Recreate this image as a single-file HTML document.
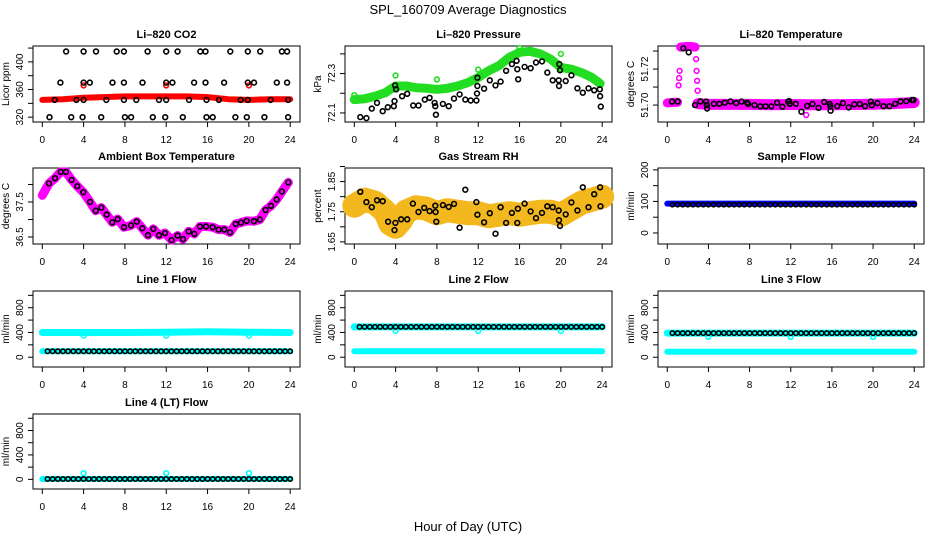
<!DOCTYPE html>
<html><head><meta charset="utf-8"><title>SPL_160709 Average Diagnostics</title>
<style>
html,body{margin:0;padding:0;background:#fff;}
svg{display:block;font-family:"Liberation Sans","DejaVu Sans",sans-serif;}
</style></head>
<body>
<svg id="chart" width="936" height="540" viewBox="0 0 936 540" xmlns="http://www.w3.org/2000/svg">
<rect x="0" y="0" width="936" height="540" fill="#fff"/>
<text x="468" y="14" text-anchor="middle" font-size="13">SPL_160709  Average Diagnostics</text>
<text x="468" y="531" text-anchor="middle" font-size="13">Hour of Day (UTC)</text>
</svg>
<script>
// ---------- data ----------
const xTicks = [0,4,8,12,16,20,24];
const halfHours = [0.5,1,1.5,2,2.5,3,3.5,4,4.5,5,5.5,6,6.5,7,7.5,8,8.5,9,9.5,10,10.5,11,11.5,12,12.5,13,13.5,14,14.5,15,15.5,16,16.5,17,17.5,18,18.5,19,19.5,20,20.5,21,21.5,22,22.5,23,23.5,24];
const bandHours = [0,4,8,12,16,20,24];

// CO2
const co2Hours = [2.3,4.0,5.2,7.2,7.9,10.2,12.0,13.1,15.3,15.8,18.2,19.9,21.1,23.2,23.7,
  1.75,4.0,4.6,6.8,7.9,9.7,12.0,12.6,14.7,15.8,17.6,19.9,20.5,22.7,23.7,
  1.2,3.3,4.0,6.2,7.9,9.1,11.3,12.0,14.2,15.9,17.1,19.2,19.9,22.1,23.8,
  0.7,2.8,3.9,5.7,8.0,8.6,10.7,11.9,13.6,15.9,16.5,18.7,19.8,21.5,23.8];
const co2Vals = [415,415,415,415,415,415,415,415,415,415,415,415,415,415,415,
  370,370,370,370,370,370,370,370,370,370,370,370,370,370,370,
  345,345,345,345,345,345,345,345,345,345,345,345,345,345,345,
  320,320,320,320,320,320,320,320,320,320,320,320,320,320,320];
const co2BandHours = [0,2,4,6,8,10,12,14,16,18,20,22,24];
const co2BandVals = [345,346,348,349,350,350,350,350,349,346,345,346,346];
const co2OutHours = [4,12,20];
const co2OutVals = [366,366,366];

// Pressure
const presHours = [0.58,1.17,1.69,2.2,2.75,3.24,3.82,3.89,3.95,4.05,4.63,5.12,5.7,6.22,6.83,7.29,7.77,7.84,7.9,8.58,9.14,9.65,10.2,10.75,11.27,11.82,11.88,11.92,11.92,12.57,13.12,13.67,14.16,14.7,15.26,15.71,15.78,15.87,16.49,17.07,17.59,18.17,18.69,19.21,19.79,19.82,19.85,19.92,20.47,21.02,21.6,22.12,22.67,23.23,23.77,23.8,23.87];
const presVals = [72.079,72.074,72.122,72.151,72.109,72.129,72.134,72.16,72.24,72.22,72.185,72.197,72.138,72.138,72.168,72.177,72.151,72.134,72.091,72.146,72.134,72.173,72.194,72.168,72.163,72.163,72.199,72.237,72.279,72.223,72.266,72.24,72.259,72.314,72.348,72.365,72.322,72.271,72.334,72.327,72.356,72.362,72.305,72.266,72.266,72.237,72.348,72.317,72.262,72.291,72.225,72.203,72.225,72.215,72.22,72.185,72.132];
const presBandHours = [0,1,2,3,4,5,6,7,7.9,8.1,9,10,11,12,13,14,15,16,17,18,19,20,21,22,23,23.8];
const presBandVals = [72.168,72.172,72.185,72.203,72.237,72.237,72.228,72.225,72.22,72.22,72.225,72.237,72.254,72.28,72.314,72.34,72.382,72.408,72.413,72.4,72.374,72.331,72.322,72.305,72.28,72.249];
const presOutHours = [0,4,8,12,16,20];
const presOutVals = [72.19,72.29,72.27,72.32,72.43,72.40];

// Li-820 temperature
const ltHours = [0.46,1.01,1.56,2.08,2.7,3.22,3.77,3.84,3.87,4.52,5.07,5.59,6.15,6.7,7.22,7.77,7.87,8.49,9.04,9.56,10.11,10.67,11.19,11.74,11.84,11.9,12.49,13.04,13.59,14.11,14.7,15.25,15.8,15.84,15.87,16.52,17.07,17.63,18.18,18.7,19.22,19.77,19.87,20.42,21.01,21.59,22.15,22.67,23.22,23.77,23.93];
const ltVals = [51.7019,51.702,51.7315,51.7293,51.700,51.702,51.7019,51.700,51.6981,51.7007,51.7007,51.7013,51.702,51.7011,51.7019,51.7013,51.7006,51.700,51.6993,51.6993,51.6993,51.7013,51.6991,51.7019,51.7022,51.7007,51.7007,51.6963,51.6996,51.7006,51.6985,51.7017,51.7006,51.6993,51.6969,51.6994,51.7011,51.6987,51.7004,51.7006,51.6994,51.7019,51.700,51.7011,51.6994,51.6994,51.7007,51.702,51.7022,51.7028,51.7028];
const ltMagAHours = [0,0.5,1.0];
const ltMagAVals = [51.7012,51.7014,51.7016];
const ltMagPeakHours = [1.3,1.8,2.3,2.7];
const ltMagPeakVals = [51.7322,51.7325,51.7325,51.7322];
const ltMagBHours = [3,4,6,8,10,12,14,16,18,20,22,24];
const ltMagBVals = [51.7008,51.7004,51.7004,51.7004,51.7002,51.7003,51.7002,51.7002,51.7003,51.7005,51.7008,51.7014];
const ltMagPtsHours = [1.1,1.15,1.2,2.8,2.85,2.9,2.95,13.5];
const ltMagPtsVals = [51.711,51.715,51.719,51.7255,51.719,51.7135,51.708,51.6945];

// Ambient box temperature
const ambHours = [0.65,1.23,1.78,2.29,2.84,3.39,3.97,4.62,5.17,5.71,6.23,6.78,7.3,7.91,8.59,9.14,9.68,10.23,10.75,11.3,11.88,12.52,13.1,13.62,14.17,14.72,15.27,15.85,16.49,17.07,17.62,18.17,18.72,19.24,19.78,20.49,21.07,21.62,22.14,22.69,23.2,23.82];
const ambVals = [38.03,38.18,38.36,38.36,38.13,37.95,37.78,37.5,37.25,37.34,37.14,36.92,37.01,36.78,36.83,36.94,36.75,36.55,36.73,36.55,36.61,36.41,36.54,36.44,36.66,36.59,36.8,36.8,36.78,36.71,36.71,36.63,36.87,36.91,36.96,36.95,37.0,37.27,37.39,37.57,37.8,38.06];
const ambBandHours = [0,0.65,1.23,1.78,2.29,2.84,3.39,3.97,4.62,5.17,5.71,6.23,6.78,7.3,7.91,8.59,9.14,9.68,10.23,10.75,11.3,11.88,12.52,13.1,13.62,14.17,14.72,15.27,15.85,16.49,17.07,17.62,18.17,18.72,19.24,19.78,20.49,21.07,21.62,22.14,22.69,23.2,23.82];
const ambBandVals = [37.69,38.03,38.18,38.36,38.36,38.13,37.95,37.78,37.5,37.25,37.34,37.14,36.92,37.01,36.78,36.83,36.94,36.75,36.55,36.73,36.55,36.61,36.41,36.54,36.44,36.66,36.59,36.8,36.8,36.78,36.71,36.71,36.63,36.87,36.91,36.96,36.95,37.0,37.27,37.39,37.57,37.8,38.06];

// Gas stream RH
const rhHours = [0.58,1.17,1.69,2.2,2.75,3.27,3.89,3.98,4.53,5.12,5.67,6.22,6.77,7.29,7.84,7.94,7.87,8.58,9.14,9.65,10.2,10.75,11.82,11.92,12.57,13.12,13.67,14.16,14.7,15.26,15.78,15.84,16.49,17.07,17.59,18.17,18.69,19.21,19.79,19.82,19.92,20.47,21.02,21.6,22.12,22.67,23.23,23.8,23.84];
const rhVals = [1.816,1.782,1.765,1.788,1.785,1.717,1.689,1.713,1.725,1.725,1.777,1.749,1.763,1.752,1.77,1.717,1.749,1.772,1.766,1.776,1.697,1.823,1.782,1.74,1.715,1.745,1.677,1.765,1.713,1.746,1.713,1.76,1.777,1.751,1.729,1.746,1.768,1.765,1.754,1.722,1.703,1.741,1.781,1.754,1.831,1.765,1.808,1.831,1.768];
const rhBandHours = [0,1,2,3,3.5,4,4.5,5,6,7,8,9,10,11,12,13,14,15,16,17,18,19,20,21,22,23,24];
const rhBandVals = [1.77,1.79,1.78,1.75,1.71,1.70,1.72,1.75,1.765,1.76,1.745,1.755,1.75,1.745,1.745,1.735,1.74,1.745,1.74,1.745,1.75,1.75,1.74,1.76,1.78,1.79,1.80];

// Sample flow
const sampleBlack = [90,90,90,90,90,90,90,90,90,90,90,90,90,90,90,90,90,90,90,90,90,90,90,90,90,90,90,90,90,90,90,90,90,90,90,90,90,90,90,90,90,90,90,90,90,90,90,90];
const sampleBlueVals = [93,93,93,93,93,93,93];

// Line flows
const l1Black = [95,95,95,95,95,95,95,95,95,95,95,95,95,95,95,95,95,95,95,95,95,95,95,95,95,95,95,95,95,95,95,95,95,95,95,95,95,95,95,95,95,95,95,95,95,95,95,95];
const l1CyanHigh = [400,400,400,405,410,405,400];
const l1CyanLow = [95,95,95,95,95,95,95];
const l2Black = [490,490,490,490,490,490,490,490,490,490,490,490,490,490,490,490,490,490,490,490,490,490,490,490,490,490,490,490,490,490,490,490,490,490,490,490,490,490,490,490,490,490,490,490,490,490,490,490];
const l2CyanHigh = [490,490,490,490,490,490,490];
const l2CyanLow = [95,95,95,95,95,95,95];
const l3Black = [390,390,390,390,390,390,390,390,390,390,390,390,390,390,390,390,390,390,390,390,390,390,390,390,390,390,390,390,390,390,390,390,390,390,390,390,390,390,390,390,390,390,390,390,390,390,390,390];
const l3CyanHigh = [390,390,390,390,390,390,390];
const l3CyanLow = [90,90,90,90,90,90,90];
const l4Black = [5,5,5,5,5,5,5,5,5,5,5,5,5,5,5,5,5,5,5,5,5,5,5,5,5,5,5,5,5,5,5,5,5,5,5,5,5,5,5,5,5,5,5,5,5,5,5,5];
const l4Cyan = [5,5,5,5,5,5,5];
const dipHours = [4,12,20];
const l1Dips = [350,350,350];
const l2Dips = [425,425,425];
const l3Dips = [330,330,330];
const l4Dips = [100,100,100];

// ---------- drawing ----------
const NS = 'http://www.w3.org/2000/svg';
const svg = document.getElementById('chart');
function mk(tag, attrs, parent) {
  const el = document.createElementNS(NS, tag);
  for (const k in attrs) el.setAttribute(k, attrs[k]);
  parent.appendChild(el);
  return el;
}
const cols = [[33,300],[345,612],[658,924]];
const rows = [[46,122],[168,244],[291,367],[414,489]];

function panel(col,row,name,title,ymin,ymax,yticks,ylabels,ytitle) {
  const [x0,x1] = cols[col], [y0,y1] = rows[row];
  const g = mk('g', {}, svg);
  
  
  const sx = h => x0 + (h + 0.9) / 25.85 * (x1 - x0);
  const sy = v => y1 - (v - ymin) / (ymax - ymin) * (y1 - y0);
  const t = mk('text', {x:(x0+x1)/2, y:y0-8, 'text-anchor':'middle','font-size':11,'font-weight':'bold'}, g);
  t.textContent = title;
  
  
  const box = mk('rect', {x:x0, y:y0, width:x1-x0, height:y1-y0, fill:'none', stroke:'#000','stroke-width':1}, g);
  
  
  const xa = mk('g', {}, g);
  
  
  xTicks.forEach(v => {
    mk('line', {x1:sx(v), x2:sx(v), y1:y1, y2:y1+5, stroke:'#000'}, xa);
    const l = mk('text', {x:sx(v), y:y1+21, 'text-anchor':'middle','font-size':10}, xa);
    l.textContent = v;
  });
  const ya = mk('g', {}, g);
  
  
  yticks.forEach(v => { mk('line', {x1:x0-5, x2:x0, y1:sy(v), y2:sy(v), stroke:'#000'}, ya); });
  ylabels.forEach(v => {
    const yy = sy(v);
    const l = mk('text', {x:x0-10, y:yy, 'text-anchor':'middle','font-size':10, transform:'rotate(-90 '+(x0-10)+' '+yy+')'}, ya);
    l.textContent = v;
  });
  const yt = mk('text', {x:x0-24, y:(y0+y1)/2, 'text-anchor':'middle','font-size':10, transform:'rotate(-90 '+(x0-24)+' '+((y0+y1)/2)+')'}, g);
  yt.textContent = ytitle;
  
  
  return {g, sx, sy};
}
function band(p, hs, vs, color, w, name) {
  const pts = hs.map((h,i) => p.sx(h).toFixed(1)+','+p.sy(vs[i]).toFixed(1)).join(' ');
  const el = mk('polyline', {points:pts, fill:'none', stroke:color, 'stroke-width':w, 'stroke-linecap':'round','stroke-linejoin':'round'}, p.g);
  
  
}
function circles(p, hs, vs, color, name, r, sw) {
  const g = mk('g', {}, p.g);
  
  
  hs.forEach((h,i) => {
    mk('circle', {cx:p.sx(h).toFixed(1), cy:p.sy(vs[i]).toFixed(1), r:r||2.4, fill:'none', stroke:color, 'stroke-width':sw||1.6}, g);
  });
}

// Li-820 CO2
let p = panel(0,0,'co2','Li\u2013820 CO2',313,423,[320,340,360,380,400,420],[320,360,400],'Licor ppm');
band(p, co2BandHours, co2BandVals, '#ff0000', 6, 'co2-red-series');
circles(p, co2OutHours, co2OutVals, '#ff0000', 'co2-red-outliers');
circles(p, co2Hours, co2Vals, '#000', 'co2-black-series');

// Pressure
p = panel(1,0,'pressure','Li\u2013820 Pressure',72.054,72.44,[72.1,72.2,72.3,72.4],[72.1,72.3],'kPa');
band(p, presBandHours, presBandVals, '#22dd22', 9, 'pressure-green-series');
circles(p, presOutHours, presOutVals, '#22dd22', 'pressure-green-outliers');
circles(p, presHours, presVals, '#000', 'pressure-black-series');

// Li-820 Temperature
p = panel(2,0,'li820-temp','Li\u2013820 Temperature',51.6906,51.7328,[51.70,51.71,51.72,51.73],['51.70','51.72'],'degrees C');
band(p, ltMagAHours, ltMagAVals, '#ff00ff', 9, 'li820-temp-magenta-start');
band(p, ltMagPeakHours, ltMagPeakVals, '#ff00ff', 9, 'li820-temp-magenta-peak');
band(p, ltMagBHours, ltMagBVals, '#ff00ff', 11, 'li820-temp-magenta-series');
circles(p, ltMagPtsHours, ltMagPtsVals, '#ff00ff', 'li820-temp-magenta-points');
circles(p, ltHours, ltVals, '#000', 'li820-temp-black-series');

// Ambient box temperature
p = panel(0,1,'ambient-temp','Ambient Box Temperature',36.3,38.47,[36.5,37,37.5,38],[36.5,37.5],'degrees C');
band(p, ambBandHours, ambBandVals, '#ff00ff', 9, 'ambient-magenta-series');
circles(p, ambHours, ambVals, '#000', 'ambient-black-series');

// Gas stream RH
p = panel(1,1,'rh','Gas Stream RH',1.643,1.895,[1.65,1.70,1.75,1.80,1.85,1.90],['1.65','1.75','1.85'],'percent');
band(p, rhBandHours, rhBandVals, '#f2b81e', 24, 'rh-orange-series');
circles(p, rhHours, rhVals, '#000', 'rh-black-series');

// Sample flow
p = panel(2,1,'sample-flow','Sample Flow',-35,206,[0,50,100,150,200],[0,100,200],'ml/min');
band(p, bandHours, sampleBlueVals, '#0000ff', 6, 'sample-flow-blue-series');
circles(p, halfHours, sampleBlack, '#000', 'sample-flow-black-series', 2.2);

// Line flows
const fT = [0,200,400,600,800,1000], fL = [0,400,800];
p = panel(0,2,'line1-flow','Line 1 Flow',-158,1070,fT,fL,'ml/min');
band(p, bandHours, l1CyanHigh, '#00ffff', 7, 'line1-cyan-high');
band(p, bandHours, l1CyanLow, '#00ffff', 6, 'line1-cyan-low');
circles(p, dipHours, l1Dips, '#00ffff', 'line1-cyan-dips');
circles(p, halfHours, l1Black, '#000', 'line1-black-series', 2.2);

p = panel(1,2,'line2-flow','Line 2 Flow',-158,1070,fT,fL,'ml/min');
band(p, bandHours, l2CyanHigh, '#00ffff', 7, 'line2-cyan-high');
band(p, bandHours, l2CyanLow, '#00ffff', 6, 'line2-cyan-low');
circles(p, dipHours, l2Dips, '#00ffff', 'line2-cyan-dips');
circles(p, halfHours, l2Black, '#000', 'line2-black-series', 2.2);

p = panel(2,2,'line3-flow','Line 3 Flow',-158,1070,fT,fL,'ml/min');
band(p, bandHours, l3CyanHigh, '#00ffff', 7, 'line3-cyan-high');
band(p, bandHours, l3CyanLow, '#00ffff', 6, 'line3-cyan-low');
circles(p, dipHours, l3Dips, '#00ffff', 'line3-cyan-dips');
circles(p, halfHours, l3Black, '#000', 'line3-black-series', 2.2);

p = panel(0,3,'line4-flow','Line 4 (LT) Flow',-158,1070,fT,fL,'ml/min');
band(p, bandHours, l4Cyan, '#00ffff', 6, 'line4-cyan-series');
circles(p, dipHours, l4Dips, '#00ffff', 'line4-cyan-dips');
circles(p, halfHours, l4Black, '#000', 'line4-black-series', 2.2);
</script>
</body></html>
